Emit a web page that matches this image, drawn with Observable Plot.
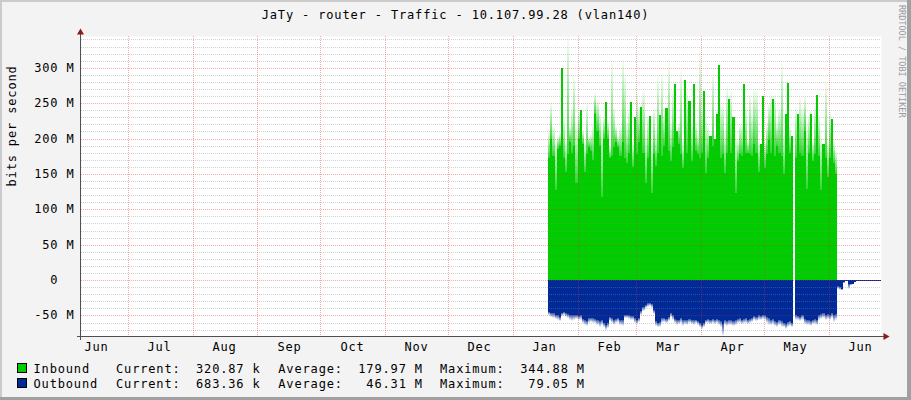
<!DOCTYPE html>
<html><head><meta charset="utf-8">
<script src="https://cdn.jsdelivr.net/npm/d3@7"></script>
<script src="https://cdn.jsdelivr.net/npm/@observablehq/plot@0.6"></script>
<style>
html,body{margin:0;padding:0;background:#F3F3F3}
#wrap{position:relative;width:911px;height:400px;background:#F3F3F3;overflow:hidden;font-family:"DejaVu Sans Mono",monospace;font-size:12px;letter-spacing:0.85px;color:#000}
.t{position:absolute;white-space:pre;line-height:14px}
.b{position:absolute}
#chart{position:absolute;left:0;top:24px}
</style></head><body>
<div id="wrap"><div id="chart"></div></div>
<script>
// ---------- data (Mbit/s, one value per day starting 2017-01-18) ----------
const title = "JaTy - router - Traffic - 10.107.99.28 (vlan140)";
const yAxisLabel = "bits per second";
const watermark = "RRDTOOL / TOBI OETIKER";
const firstDay = "2017-01-18";
const domainStart = "2016-06-08T16:20Z";
const domainEnd = "2017-06-26T00:00Z";
const yMin = -79.05, yMax = 344.88;

const monthLabels = ["Jun","Jul","Aug","Sep","Oct","Nov","Dec","Jan","Feb","Mar","Apr","May","Jun"];
const yTicks = [-50, 0, 50, 100, 150, 200, 250, 300];
const yTickLabels = ["-50 M", "0\u00a0\u00a0", "50 M", "100 M", "150 M", "200 M", "250 M", "300 M"];

// solid (fully filled) level of each day
const inSolid = [
 172,200,175,127,185,190,300,172,153,178,
 195,180,190,137,200,240,192,153,178,188,
 182,170,235,210,190,117,200,252,200,172,
 176,188,195,188,175,195,172,165,180,251,
 160,230,178,195,244,180,137,172,232,123,
 178,161,180,233,176,190,243,182,168,188,
 277,210,192,178,158,283,180,253,168,277,
 182,178,172,180,267,151,172,204,190,200,
 235,304,172,178,151,180,256,180,230,123,
 168,178,175,277,180,180,178,176,192,180,
 152,192,260,158,178,198,180,256,176,190,
 180,175,150,235,279,180,203,NaN,172,235,
 180,176,210,129,180,235,168,178,262,176,
 127,192,172,145,172,228,165,150,
 0.3,0.3,0.3,0.3,0.3,0.3,0.3,0.3,0.3,0.3,0.3,0.3,0.3,0.3,0.3,0.3,0.3,0.3,0.3,0.3,0.3];
// highest sample of each day
const inPeak = [
 212,250,217,198,203,208,300,231,198,345,
 217,245,288,222,240,240,212,198,250,203,
 208,222,264,255,236,217,231,252,226,189,
 311,245,217,203,217,312,292,222,245,251,
 198,230,269,245,244,269,208,231,232,198,
 245,208,288,233,292,236,243,309,222,269,
 277,210,222,297,198,283,269,253,222,277,
 226,208,321,245,267,231,217,204,292,200,
 235,304,250,250,212,274,256,269,230,208,
 198,222,222,277,245,198,264,236,270,269,
 198,192,260,198,222,250,264,256,264,222,
 245,309,208,235,279,217,203,NaN,245,235,
 259,245,260,222,236,235,198,250,262,236,
 208,192,278,198,240,228,198,184,
 0.3,0.3,0.3,0.3,0.3,0.3,0.3,0.3,0.3,0.3,0.3,0.3,0.3,0.3,0.3,0.3,0.3,0.3,0.3,0.3,0.3];
const outSolid = [
 -45,-46,-47,-49,-50,-52,-46,-45,-47,-48,
 -49,-50,-49,-50,-51,-50,-55,-57,-58,-54,
 -53,-54,-55,-57,-58,-56,-60,-63,-60,-52,
 -54,-56,-55,-53,-56,-57,-50,-49,-50,-51,
 -51,-54,-56,-53,-44,-38,-35,-33,-33,-34,
 -42,-58,-61,-59,-54,-53,-55,-52,-46,-50,
 -55,-57,-56,-53,-57,-56,-57,-55,-56,-57,
 -56,-58,-61,-63,-60,-56,-55,-57,-55,-56,
 -55,-57,-58,-62,-57,-58,-56,-57,-58,-56,
 -55,-54,-56,-55,-54,-56,-55,-54,-51,-52,
 -50,-51,-49,-50,-52,-54,-56,-55,-58,-59,
 -57,-58,-60,-62,-59,-58,-60,NaN,-50,-51,
 -52,-50,-55,-57,-56,-58,-56,-55,-56,-50,
 -48,-47,-49,-48,-50,-47,-50,-48,
 -8,-10,-12,-3,-2,-6,-5,-5,-3,-2,-1,-1,-1,-1,-1,-1,-2,-1,-1,-1,-1];
const outPeak = [
 -50,-52,-53,-55,-56,-58,-51,-50,-52,-54,
 -56,-58,-57,-55,-56,-56,-61,-64,-65,-60,
 -59,-60,-61,-64,-66,-63,-67,-71,-68,-58,
 -60,-64,-61,-59,-64,-65,-54,-53,-55,-56,
 -56,-60,-62,-59,-50,-44,-40,-38,-37,-39,
 -48,-65,-67,-66,-60,-59,-61,-58,-52,-56,
 -61,-63,-62,-60,-65,-62,-63,-61,-62,-63,
 -61,-63,-66,-69,-66,-61,-60,-62,-61,-62,
 -60,-63,-66,-79,-64,-65,-63,-64,-65,-63,
 -61,-60,-62,-61,-60,-62,-60,-59,-57,-58,
 -56,-57,-55,-56,-60,-63,-64,-62,-65,-66,
 -64,-66,-67,-69,-66,-65,-66,NaN,-56,-57,
 -58,-57,-62,-64,-63,-65,-62,-62,-63,-56,
 -55,-54,-56,-55,-57,-53,-59,-56,
 -12,-14,-14,-4,-2,-13,-7,-6,-3,-2,-1,-1,-1,-1,-1,-1,-2,-1,-1,-1,-1];

const legendNames = ["Inbound", "Outbound"];
const legendCurrent = ["320.87 k", "683.36 k"];
const legendAverage = ["179.97 M", " 46.31 M"];
const legendMaximum = ["344.88 M", " 79.05 M"];

// ---------- styles ----------
const IN_COLOR = "#00CC00", OUT_COLOR = "#002A97";

// ---------- derived tables ----------
const DAY = 864e5;
const t0 = new Date(firstDay + "T00:00Z").getTime();
const day = i => new Date(t0 + i * DAY);
const xDomain = [new Date(domainStart), new Date(domainEnd)];
const monthStarts = d3.utcMonths(new Date(Date.UTC(2016, 6, 1)), new Date(Date.UTC(2017, 5, 2)));
const midMonths = monthLabels.map((_, i) => new Date(Date.UTC(2016, 5 + i, 16)));
const minorY = d3.range(-70, 341, 10).filter(v => v % 50 !== 0);
const yLabelMap = new Map(yTicks.map((v, i) => [v, yTickLabels[i]]));

function steps(vals) {
  const rows = [];
  vals.forEach((v, i) => {
    if (Number.isFinite(v)) {
      rows.push({date: day(i), v});
      if (i + 1 >= vals.length || !Number.isFinite(vals[i + 1])) rows.push({date: day(i + 1), v});
    } else rows.push({date: day(i), v: NaN});
  });
  return rows;
}
function fades(solid, peak) {
  return solid.map((s, i) => ({date: day(i), end: day(i + 1), solid: s, peak: peak[i]}))
    .filter(d => Number.isFinite(d.solid) && Math.abs(d.peak - d.solid) > 0.5);
}

const defs = () => {
  const g = document.createElementNS("http://www.w3.org/2000/svg", "defs");
  g.innerHTML = `<linearGradient id="gIn" x1="0" y1="1" x2="0" y2="0">
      <stop offset="0" stop-color="${IN_COLOR}" stop-opacity="0.8"/>
      <stop offset="1" stop-color="${IN_COLOR}" stop-opacity="0.02"/></linearGradient>
    <linearGradient id="gOut" x1="0" y1="0" x2="0" y2="1">
      <stop offset="0" stop-color="${OUT_COLOR}" stop-opacity="0.8"/>
      <stop offset="1" stop-color="${OUT_COLOR}" stop-opacity="0.02"/></linearGradient>`;
  return g;
};

const plot = Plot.plot({
  width: 911, height: 332,
  marginTop: 12, marginBottom: 20, marginLeft: 81, marginRight: 30,
  style: {background: "transparent", fontFamily: "DejaVu Sans Mono", fontSize: "12px", overflow: "visible"},
  x: {type: "utc", domain: xDomain, label: null, round: true},
  y: {domain: [yMin, yMax], label: null, round: true},
  marks: [
    defs,
    Plot.frame({fill: "white", stroke: "none"}),
    Plot.areaY(steps(inSolid), {x: "date", y1: 0, y2: "v", curve: "step-after", fill: IN_COLOR}),
    Plot.rect(fades(inSolid, inPeak), {x1: "date", x2: "end", y1: "solid", y2: "peak", fill: "url(#gIn)"}),
    Plot.areaY(steps(outSolid), {x: "date", y1: 0, y2: "v", curve: "step-after", fill: OUT_COLOR}),
    Plot.rect(fades(outSolid, outPeak), {x1: "date", x2: "end", y1: "solid", y2: "peak", fill: "url(#gOut)"}),
    Plot.ruleY(minorY, {stroke: "#8a8a8a", strokeOpacity: 0.38, strokeDasharray: "1,1"}),
    Plot.ruleY(yTicks, {stroke: "#e02828", strokeOpacity: 0.38, strokeDasharray: "1,1"}),
    Plot.ruleX(monthStarts, {stroke: "#e02828", strokeOpacity: 0.38, strokeDasharray: "1,1"}),
    Plot.ruleY([yMin], {stroke: "#505050", insetLeft: -4, insetRight: -4}),
    Plot.ruleX([xDomain[0]], {stroke: "#505050", insetTop: -6, insetBottom: -4, dx: -1}),
    Plot.dot([{x: xDomain[0], y: yMax}], {x: "x", y: "y", symbol: "triangle", r: 2.6, fill: "#8b1a1a", stroke: "none", dx: -1, dy: -4}),
    Plot.dot([{x: xDomain[1], y: yMin}], {x: "x", y: "y", symbol: "triangle", rotate: 90, r: 2.6, fill: "#8b1a1a", stroke: "none", dx: 4}),
    Plot.axisY(yTicks, {tickFormat: d => yLabelMap.get(d), tickSize: 0, tickPadding: 7, label: null}),
    Plot.axisX(midMonths, {tickFormat: (d, i) => monthLabels[i], tickSize: 0, tickPadding: 6, label: null}),
    Plot.text([yAxisLabel], {text: d => d, frameAnchor: "left", dx: -69, rotate: -90})
  ]
});
document.getElementById("chart").appendChild(plot);

// ---------- HTML title, legend, frame ----------
const wrap = document.getElementById("wrap");
function add(cls, css, text) {
  const e = document.createElement("div");
  e.className = cls; e.style.cssText = css;
  if (text != null) e.textContent = text;
  wrap.appendChild(e); return e;
}
add("t", "left:0;top:8px;width:911px;text-align:center", title);
add("t", "left:906.5px;top:5px;font-size:8.5px;letter-spacing:0;line-height:10px;color:#9a9a9a;transform:rotate(90deg);transform-origin:0 0", watermark);
[IN_COLOR, OUT_COLOR].forEach((c, r) => {
  const top = 362 + r * 15;
  add("b", `left:17px;top:${363 + r * 15}px;width:10px;height:10px;box-sizing:border-box;border:1px solid #000;background:${c}`);
  add("t", `left:33.5px;top:${top}px`, legendNames[r]);
  add("t", `left:116px;top:${top}px`, "Current:");
  add("t", `left:196px;top:${top}px`, legendCurrent[r]);
  add("t", `left:278.3px;top:${top}px`, "Average:");
  add("t", `left:358.3px;top:${top}px`, legendAverage[r]);
  add("t", `left:440px;top:${top}px`, "Maximum:");
  add("t", `left:520.3px;top:${top}px`, legendMaximum[r]);
});
add("b", "left:0;top:0;width:911px;height:2px;background:#CBCBCB");
add("b", "left:0;top:0;width:2px;height:400px;background:#CBCBCB");
add("b", "left:907px;top:0;width:4px;height:400px;background:#A0A0A0");
add("b", "left:0;top:397px;width:911px;height:3px;background:#A0A0A0");
</script>
</body></html>
